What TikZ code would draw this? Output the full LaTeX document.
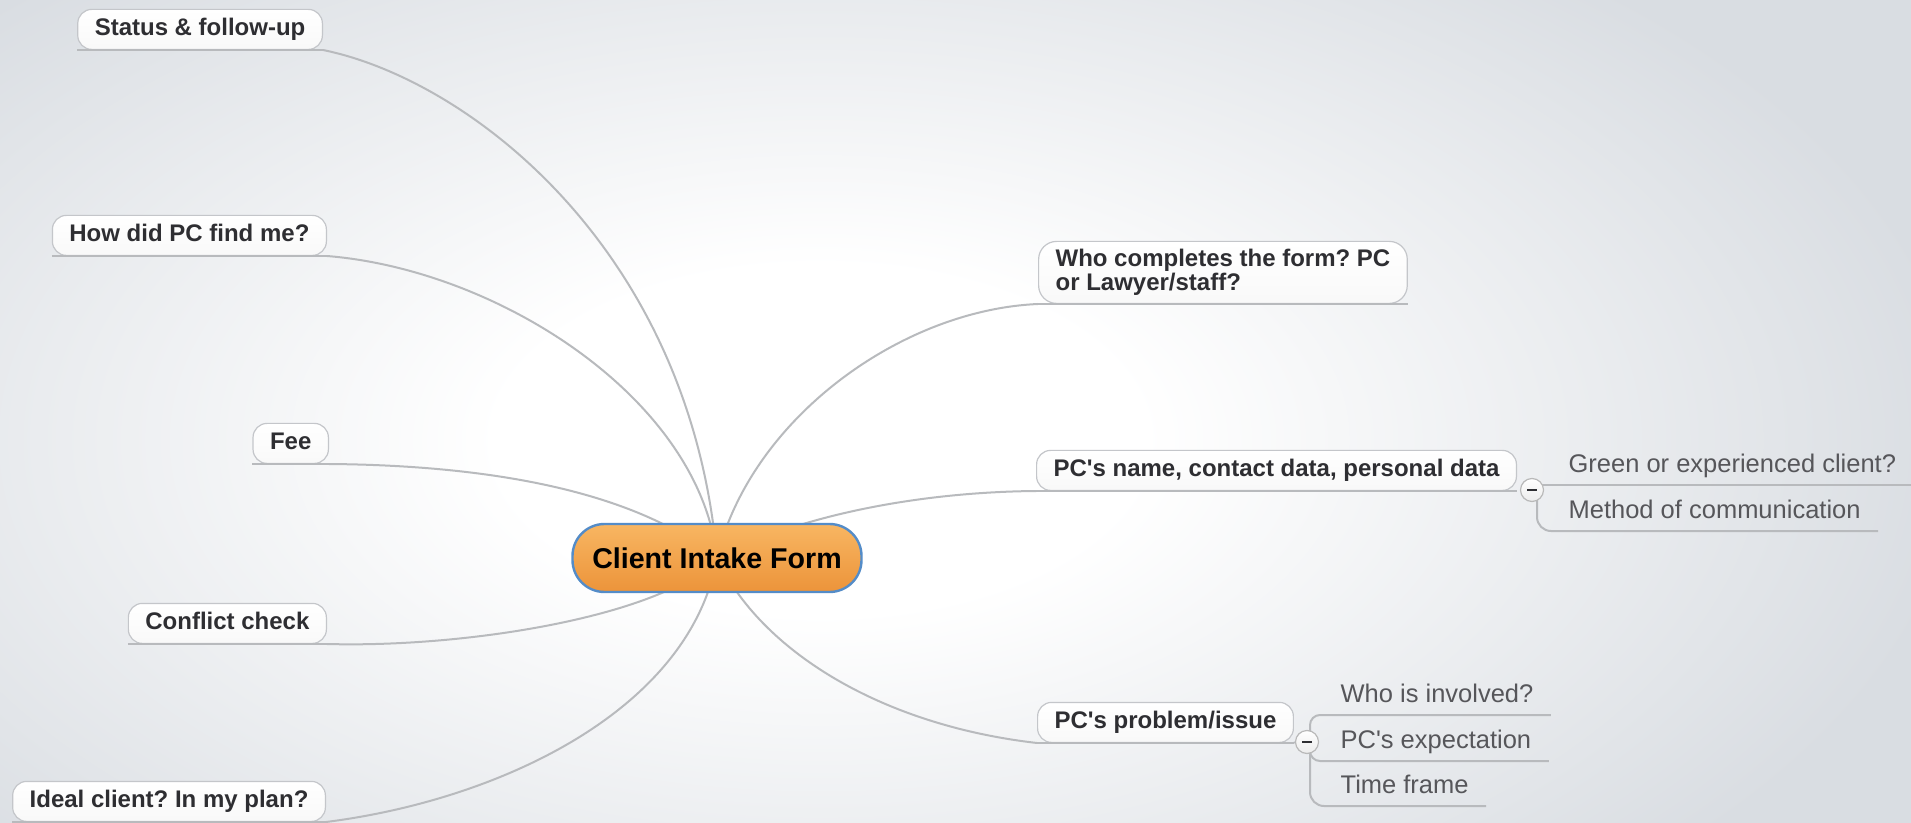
\documentclass[tikz,border=0pt]{standalone}
\usepackage{fontspec}
\setmainfont{Liberation Sans}
\newfontfamily\mapfont{Liberation Sans}
\usetikzlibrary{shapes,backgrounds}
\frenchspacing

\definecolor{canvas}{RGB}{217,221,226}
\definecolor{linkgray}{RGB}{184,186,189}
\definecolor{boxline}{RGB}{196,198,202}
\definecolor{darktext}{RGB}{46,46,50}
\definecolor{subtext}{RGB}{86,86,90}
\definecolor{orangetop}{RGB}{248,182,98}
\definecolor{orangebot}{RGB}{236,148,58}
\definecolor{centerline}{RGB}{84,140,200}
\pgfdeclareradialshading{glow}{\pgfpoint{0bp}{0bp}}{color(0bp)=(white); color(7bp)=(white); color(25bp)=(canvas); color(50bp)=(canvas)}

\begin{document}
\begin{tikzpicture}[x=0.5pt,y=-0.5pt,semithick]
\tikzstyle{topic}=[draw=boxline, rounded corners=7pt, top color=white, bottom color=gray!5, inner xsep=8.5pt, inner ysep=3pt, minimum height=20pt, text=darktext, font=\mapfont\bfseries\fontsize{12}{11}\selectfont]
\tikzstyle{oneline}=[text height=9pt, text depth=2.6pt]
\tikzstyle{subtopic}=[inner xsep=8.5pt, inner ysep=5.75pt, text height=9.2pt, text depth=0pt, text=subtext, font=\mapfont\fontsize{12.75}{14}\selectfont]
\tikzstyle{fold}=[circle, draw=gray!55, top color=white, bottom color=gray!15, inner sep=0pt, minimum size=11.5pt, text=darktext]
\tikzstyle{link}=[draw=linkgray, line width=1pt]
\useasboundingbox (0,0) rectangle (1911,823);

% central topic
\node[rounded corners=16pt, draw=centerline, line width=1.2pt, top color=orangetop, bottom color=orangebot, minimum width=144.5pt, minimum height=34pt, text=black, font=\mapfont\bfseries\fontsize{14.3}{16}\selectfont] (C) at (717,558) {Client Intake Form};

% left branch
\node[topic, oneline, anchor=south east] (S) at (323,50) {Status \& follow-up};
\node[topic, oneline, anchor=south east] (H) at (327,256) {How did PC find me?};
\node[topic, oneline, anchor=south east] (F) at (329,464) {Fee};
\node[topic, oneline, anchor=south east] (K) at (327,644) {Conflict check};
\node[topic, oneline, anchor=south east] (I) at (326,822) {Ideal client? In my plan?};

% right branch
\node[topic, anchor=south west, align=left, rounded corners=9pt, minimum height=31pt] (W) at (1038,304) {Who completes the form? PC\\or Lawyer/staff?};
\node[topic, oneline, anchor=south west] (N) at (1036,491) {PC's name, contact data, personal data};
\node[topic, oneline, anchor=south west] (P) at (1037,743) {PC's problem/issue};

% sub topics
\node[subtopic, anchor=south west] (G) at (1551,485) {Green or experienced client?};
\node[subtopic, anchor=south west] (M) at (1551,531) {Method of communication};
\node[subtopic, anchor=south west] (V) at (1323,715) {Who is involved?};
\node[subtopic, anchor=south west] (E) at (1323,761) {PC's expectation};
\node[subtopic, anchor=south west] (T) at (1323,806) {Time frame};

\node[fold] (m1) at (1532,490) {\rule{5pt}{1.4pt}};
\node[fold] (m2) at (1307,742) {\rule{5pt}{1.4pt}};

% underlines
\foreach \t in {S,H,F,K,I,W,N,P}
  \draw[link] (\t.south west) -- (\t.south east);
\draw[link] (P.south east) -- (m2.west);

\begin{scope}[on background layer]
\fill[canvas] (0,0) rectangle (1911,823);
\shade[shading=glow] (820,440) ellipse [x radius=575pt, y radius=310pt];
\draw[link] (C.center) .. controls (690,250) and (470,80) .. (S.south east);
\draw[link] (C.center) .. controls (700,400) and (500,270) .. (H.south east);
\draw[link] (C.center) .. controls (620,480) and (450,465) .. (F.south east);
\draw[link] (C.center) .. controls (665,615) and (470,648) .. (K.south east);
\draw[link] (C.center) .. controls (690,710) and (500,800) .. (I.south east);
\draw[link] (C.center) .. controls (750,420) and (900,310) .. (W.south west);
\draw[link] (C.center) .. controls (800,515) and (920,492) .. (N.south west);
\draw[link] (C.center) .. controls (760,650) and (880,725) .. (P.south west);
\draw[link] (m1) |- (G.south east);
\draw[link, rounded corners=7pt] ([xshift=2.5pt]m1.center) |- (M.south east);
\draw[link, rounded corners=5pt] ([xshift=1.5pt]m2.center) |- (V.south east);
\draw[link, rounded corners=5pt] ([xshift=1.5pt]m2.center) |- (E.south east);
\draw[link, rounded corners=7pt] ([xshift=1.5pt]m2.center) |- (T.south east);
\end{scope}
\end{tikzpicture}
\end{document}
